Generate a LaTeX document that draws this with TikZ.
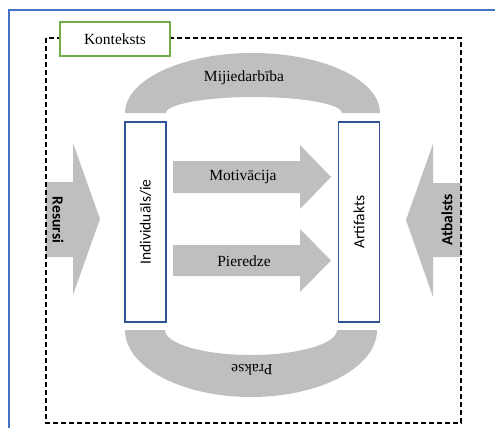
\documentclass[tikz,border=0pt]{standalone}
\usepackage{fontspec}
\setmainfont{Liberation Serif}
\newfontfamily\calibrifont{Carlito}
\usepackage{tikz}
\usetikzlibrary{positioning}
\usepackage{xcolor}
\definecolor{cGray}{RGB}{191,191,191}
\definecolor{cFrame}{RGB}{68,114,196}
\definecolor{cBox}{RGB}{47,85,151}
\definecolor{cGreen}{RGB}{112,173,71}
\newcommand{\lblsize}{\fontsize{15.5}{18}\selectfont}
\tikzset{
  grayshape/.style={fill=cGray,draw=none},
  bluebox/.style={rectangle,draw=cBox,line width=1.3pt,fill=white,
                  minimum width=41pt,minimum height=200pt,inner sep=0pt},
  ctxbox/.style={rectangle,draw=cGreen,line width=1.2pt,fill=white,
                 minimum width=110pt,minimum height=34pt,font=\lblsize},
  serlbl/.style={font=\lblsize,inner sep=0pt},
  vlbl/.style={font=\calibrifont\lblsize,rotate=90,inner sep=0pt},
  vboldlbl/.style={font=\calibrifont\bfseries\lblsize,inner sep=0pt}
}

\begin{document}
\begin{tikzpicture}[x=1pt,y=1pt]
  \useasboundingbox (0,0) rectangle (495,-428);

  % Outer frame
  \draw[cFrame,line width=1.5pt] (9,-428) -- (9,-10) -- (495,-10);

  % Curved bands
  \fill[grayshape] (125,-113) arc[start angle=180,end angle=0,x radius=127.5pt,y radius=60pt]
    -- (342,-113) arc[start angle=0,end angle=180,x radius=88pt,y radius=16pt] -- cycle;
  \fill[grayshape] (125,-330) arc[start angle=180,end angle=360,x radius=126pt,y radius=67pt]
    -- (337,-330) arc[start angle=0,end angle=-180,x radius=86pt,y radius=25pt] -- cycle;

  % Side arrows
  \fill[grayshape] (46,-182) -- (73,-182) -- (73,-143) -- (100,-219)
    -- (73,-295) -- (73,-257) -- (46,-257) -- cycle;
  \fill[grayshape] (461,-183) -- (433,-183) -- (433,-144) -- (406,-220)
    -- (433,-297) -- (433,-257) -- (461,-257) -- cycle;

  % Middle arrows
  \fill[grayshape] (173,-161) -- (300,-161) -- (300,-145) -- (331,-177)
    -- (300,-209) -- (300,-193) -- (173,-193) -- cycle;
  \fill[grayshape] (173,-245) -- (300,-245) -- (300,-229) -- (331,-260.5)
    -- (300,-292) -- (300,-276) -- (173,-276) -- cycle;

  % Context border
  \draw[black,line width=1.3pt,dash pattern=on 5pt off 3pt] (46,-38) rectangle (461,-423);
  \node[ctxbox] (konteksts) at (115,-39) {Konteksts};

  % Boxes
  \node[bluebox] (indiv) at (145.5,-222) {};
  \node[bluebox] (artif) at (359,-222) {};
  \node[vlbl] (indivlbl) at (indiv.center) {Individuāls/ie};
  \node[vlbl] (artiflbl) at (artif.center) {Artifakts};

  % Labels
  \node[serlbl] (mijied) at (244,-78) {Mijiedarbība};
  \node[serlbl,rotate=180] (prakse) at (252,-370) {Prakse};
  \node[serlbl] (motiv) at (243,-177) {Motivācija};
  \node[serlbl] (pier) at (244,-261) {Pieredze};
  \node[vboldlbl,rotate=-90] (resursi) at (58,-220) {Resursi};
  \node[vboldlbl,rotate=90] (atbalsts) at (447,-220) {Atbalsts};
\end{tikzpicture}
\end{document}
